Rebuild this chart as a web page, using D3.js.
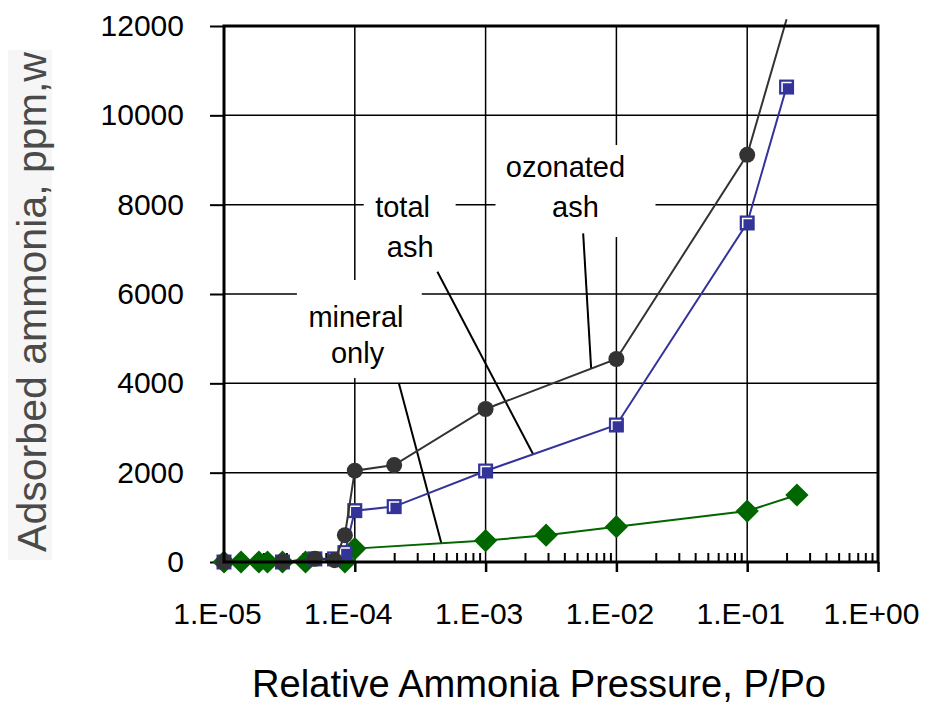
<!DOCTYPE html>
<html>
<head>
<meta charset="utf-8">
<script src="https://cdn.jsdelivr.net/npm/d3@7"></script>
<style>
  body { margin: 0; background: #fff; }
  svg text { font-family: "Liberation Sans", Arial, sans-serif; }
</style>
</head>
<body>
<div id="chart"></div>
<script>
// data (P/Po, ppm,w)
var ozonatedP = [1e-5, 2.8e-5, 4.95e-5, 7e-5, 8.4e-5, 1e-4, 2e-4, 1e-3, 1e-2, 1e-1, 0.2];
var ozonatedV = [0, 0, 70, 40, 600, 2045, 2170, 3425, 4545, 9115, 12150];
var totalP = [1e-5, 2.8e-5, 4.95e-5, 7e-5, 8.4e-5, 1e-4, 2e-4, 1e-3, 1e-2, 1e-1, 0.2];
var totalV = [0, 0, 70, 70, 210, 1150, 1240, 2037, 3067, 7590, 10633];
var mineralP = [1e-5, 1.35e-5, 1.85e-5, 2.15e-5, 2.8e-5, 4.2e-5, 8.4e-5, 1e-4, 1e-3, 2.9e-3, 1e-2, 1e-1, 0.24];
var mineralV = [0, 0, 0, 0, 0, 0, 0, 300, 480, 600, 790, 1140, 1500];

var xTicks = [1e-5, 1e-4, 1e-3, 1e-2, 1e-1, 1];
var xTickLabels = ["1.E-05", "1.E-04", "1.E-03", "1.E-02", "1.E-01", "1.E+00"];
var yTicks = [0, 2000, 4000, 6000, 8000, 10000, 12000];

var xTitle = "Relative Ammonia Pressure, P/Po";
var yTitle = "Adsorbed ammonia, ppm,w";

// callout labels, placed in data units
var notes = [
    { lines: ["ozonated", "ash"], cx: [4.08e-3, 4.86e-3], base: [8612, 7717],
      box: [1.19e-3, 1.99e-2, 9335, 7275], lead: [5.57e-3, 7358, 6.41e-3, 4336] },
    { lines: ["total", "ash"], cx: [2.32e-4, 2.65e-4], base: [7717, 6822],
      box: [1.17e-4, 5.9e-4, 8485, 6537], lead: [4.28e-4, 6499, 2.32e-3, 2400] },
    { lines: ["mineral", "only"], cx: [1.02e-4, 1.05e-4], base: [5255, 4455],
      box: [3.61e-5, 3.25e-4, 6313, 4119], lead: [2.17e-4, 4007, 4.6e-4, 410] }
];

var width = 926, height = 724;
var plotL = 224, plotR = 878, plotT = 26, plotB = 562;

var svg = d3.select("#chart").append("svg")
    .attr("width", width)
    .attr("height", height);

var x = d3.scaleLog().domain([1e-5, 1]).range([plotL, plotR]);
var y = d3.scaleLinear().domain([0, 12000]).range([plotB, plotT]);

// minor ticks 2..9 for each decade
var minor = [];
xTicks.slice(0, -1).forEach(function (d) {
    for (var k = 2; k <= 9; k++) minor.push(d * k);
});

// grid
svg.append("g")
    .selectAll("line")
    .data(xTicks)
    .enter().append("line")
    .attr("x1", function (d) { return x(d); })
    .attr("x2", function (d) { return x(d); })
    .attr("y1", plotT).attr("y2", plotB)
    .attr("stroke", "#000").attr("stroke-width", 1.5);
svg.append("g")
    .selectAll("line")
    .data(yTicks)
    .enter().append("line")
    .attr("x1", plotL).attr("x2", plotR)
    .attr("y1", function (d) { return y(d); })
    .attr("y2", function (d) { return y(d); })
    .attr("stroke", "#000").attr("stroke-width", 1.5);

// minor ticks pointing into the plot
svg.append("g")
    .attr("transform", "translate(0," + plotB + ")")
    .call(d3.axisBottom(x).tickValues(minor).tickSize(-9).tickFormat(""))
    .call(function (g) {
        g.select(".domain").remove();
        g.selectAll("line").attr("stroke", "#000").attr("stroke-width", 2);
    });

// major x ticks + labels
svg.append("g")
    .attr("transform", "translate(0," + plotB + ")")
    .call(d3.axisBottom(x).tickValues(xTicks).tickSize(10).tickPadding(31)
        .tickFormat(function (d, i) { return xTickLabels[i]; }))
    .call(function (g) {
        g.select(".domain").remove();
        g.selectAll("line").attr("stroke", "#000").attr("stroke-width", 2.5);
        g.selectAll("text").attr("font-size", 30).attr("fill", "#000")
            .attr("dx", -7)
            .style("font-family", "'Liberation Sans', Arial, sans-serif");
    });

// y ticks + labels
svg.append("g")
    .attr("transform", "translate(" + plotL + ",0)")
    .call(d3.axisLeft(y).tickValues(yTicks).tickSize(14).tickPadding(26)
        .tickFormat(d3.format("d")))
    .call(function (g) {
        g.select(".domain").remove();
        g.selectAll("line").attr("stroke", "#000").attr("stroke-width", 2);
        g.selectAll("text").attr("font-size", 30).attr("fill", "#000")
            .style("font-family", "'Liberation Sans', Arial, sans-serif");
    });

// callouts: white boxes over the grid
var note = svg.append("g").selectAll("g")
    .data(notes)
    .enter().append("g");
note.append("rect")
    .attr("x", function (d) { return x(d.box[0]); })
    .attr("width", function (d) { return x(d.box[1]) - x(d.box[0]); })
    .attr("y", function (d) { return y(d.box[2]); })
    .attr("height", function (d) { return y(d.box[3]) - y(d.box[2]); })
    .attr("fill", "#fff");
note.each(function (d) {
    var g = d3.select(this);
    d.lines.forEach(function (t, i) {
        g.append("text")
            .attr("x", x(d.cx[i]))
            .attr("y", y(d.base[i]))
            .attr("text-anchor", "middle")
            .attr("font-size", 29)
            .attr("fill", "#000")
            .text(t);
    });
});
note.append("line")
    .attr("x1", function (d) { return x(d.lead[0]); })
    .attr("y1", function (d) { return y(d.lead[1]); })
    .attr("x2", function (d) { return x(d.lead[2]); })
    .attr("y2", function (d) { return y(d.lead[3]); })
    .attr("stroke", "#000").attr("stroke-width", 2);

// series
function pts(ps, vs) {
    return ps.map(function (p, i) { return { p: p, v: vs[i] }; });
}
var line = d3.line()
    .x(function (d) { return x(d.p); })
    .y(function (d) { return y(d.v); });

var ozo = pts(ozonatedP, ozonatedV),
    tot = pts(totalP, totalV),
    mnr = pts(mineralP, mineralV);
function inRange(d) { return d.v <= 12000; }

svg.append("path").datum(mnr).attr("d", line)
    .attr("fill", "none").attr("stroke", "#006600").attr("stroke-width", 2);
svg.append("g").selectAll("path")
    .data(mnr.filter(inRange))
    .enter().append("path")
    .attr("d", d3.symbol().type(d3.symbolSquare).size(270))
    .attr("transform", function (d) { return "translate(" + x(d.p) + "," + y(d.v) + ") rotate(45)"; })
    .attr("fill", "#006600");

svg.append("path").datum(tot).attr("d", line)
    .attr("fill", "none").attr("stroke", "#333399").attr("stroke-width", 2);
var sq = svg.append("g").selectAll("g")
    .data(tot.filter(inRange))
    .enter().append("g")
    .attr("transform", function (d) { return "translate(" + x(d.p) + "," + y(d.v) + ")"; });
sq.append("rect")
    .attr("x", -7.5).attr("y", -7.5).attr("width", 15).attr("height", 15)
    .attr("fill", "#333399");
sq.append("path")
    .attr("d", "M-4.5,5V-4.5H5")
    .attr("fill", "none").attr("stroke", "#fff").attr("stroke-width", 1.5);

svg.append("path").datum(ozo).attr("d", line)
    .attr("fill", "none").attr("stroke", "#333333").attr("stroke-width", 2);
svg.append("g").selectAll("circle")
    .data(ozo.filter(inRange))
    .enter().append("circle")
    .attr("cx", function (d) { return x(d.p); })
    .attr("cy", function (d) { return y(d.v); })
    .attr("r", 8)
    .attr("fill", "#333333");

// plot frame
svg.append("rect")
    .attr("x", plotL).attr("y", plotT)
    .attr("width", plotR - plotL).attr("height", plotB - plotT)
    .attr("fill", "none").attr("stroke", "#000").attr("stroke-width", 3);

// titles
svg.append("text")
    .attr("x", 539)
    .attr("y", 697)
    .attr("text-anchor", "middle")
    .attr("font-size", 38)
    .attr("fill", "#000")
    .attr("textLength", 574)
    .attr("lengthAdjust", "spacingAndGlyphs")
    .text(xTitle);

svg.append("rect")
    .attr("x", 8).attr("y", 50).attr("width", 44).attr("height", 510)
    .attr("fill", "#f6f6f6");
svg.append("text")
    .attr("transform", "translate(46,302) rotate(-90)")
    .attr("text-anchor", "middle")
    .attr("font-size", 40)
    .attr("fill", "#4a4a4a")
    .attr("textLength", 500)
    .attr("lengthAdjust", "spacingAndGlyphs")
    .text(yTitle);
</script>
</body>
</html>
